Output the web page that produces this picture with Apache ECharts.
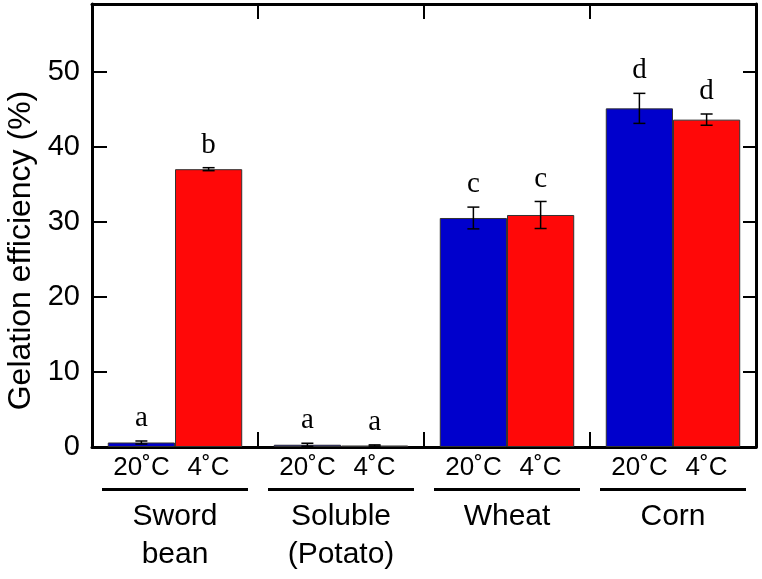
<!DOCTYPE html>
<html>
<head>
<meta charset="utf-8">
<script src="https://cdn.jsdelivr.net/npm/echarts@6/dist/echarts.min.js"></script>
<style>
html,body{margin:0;padding:0;background:#fff;}
#c{width:762px;height:579px;}
</style>
</head>
<body>
<div id="c"></div>
<script>
const groups = ['Sword\nbean', 'Soluble\n(Potato)', 'Wheat', 'Corn'];
const tempLabels = ['20˚C', '4˚C'];
const warmValues = [0.6, 0.3, 30.5, 45.1];
const warmErrors = [0.2, 0.2, 1.45, 2.0];
const coldValues = [37.0, 0.2, 30.9, 43.6];
const coldErrors = [0.2, 0.08, 1.8, 0.75];
const warmLetters = ['a', 'a', 'c', 'd'];
const coldLetters = ['b', 'a', 'c', 'd'];
const yTicks = [0, 10, 20, 30, 40, 50];

const SANS = 'Arial, "Liberation Sans", Helvetica, sans-serif';
const SERIF = '"Times New Roman", "Liberation Serif", serif';
const BAR_FRAC = 0.405;

function errSeries(values, errors, letters, sign) {
  return {
    type: 'custom',
    xAxisIndex: 0, yAxisIndex: 0,
    z: 10,
    data: values.map((v, i) => [i, v, errors[i], letters[i]]),
    renderItem: function (params, api) {
      const ci = api.value(0), v = api.value(1), e = api.value(2);
      const band = api.size([1, 0])[0];
      const cx = api.coord([ci, 0])[0] + sign * band * BAR_FRAC / 2;
      const top = api.coord([ci, v + e])[1];
      const bot = api.coord([ci, Math.max(0, v - e)])[1];
      const cap = 6;
      const st = { stroke: '#000', lineWidth: 1.5 };
      return {
        type: 'group',
        children: [
          { type: 'line', shape: { x1: cx, y1: top, x2: cx, y2: bot }, style: st },
          { type: 'line', shape: { x1: cx - cap, y1: top, x2: cx + cap, y2: top }, style: st },
          { type: 'line', shape: { x1: cx - cap, y1: bot, x2: cx + cap, y2: bot }, style: st },
          { type: 'text', style: { text: letters[ci], x: cx, y: top - 8, align: 'center', verticalAlign: 'bottom',
              font: '29px ' + SERIF, fill: '#000' } }
        ]
      };
    }
  };
}

const chart = echarts.init(document.getElementById('c'), null, { renderer: 'canvas' });
chart.setOption({
  animation: false,
  backgroundColor: '#fff',
  grid: { left: 92, right: 6, top: 4, bottom: 132, show: false, containLabel: false, outerBoundsMode: 'none' },
  xAxis: [
    {
      type: 'category', data: groups, position: 'bottom',
      axisLine: { show: true, onZero: false, lineStyle: { color: '#000', width: 3 } },
      axisTick: { show: true, inside: true, length: 15, lineStyle: { color: '#000', width: 2 } },
      axisLabel: {
        interval: 0, margin: 8, color: '#000',
        formatter: function (val) {
          const parts = val.split('\n').map(p => '{g|' + p + '}').join('\n');
          return '{t|' + tempLabels[0] + '}{t|' + tempLabels[1] + '}\n{ln| }\n' + parts;
        },
        rich: {
          t: { fontSize: 26, fontFamily: SANS, color: '#000', width: 67, align: 'center', lineHeight: 26 },
          ln: { width: 146, height: 3, backgroundColor: '#000', lineHeight: 17, fontSize: 1 },
          g: { fontSize: 30, fontFamily: SANS, color: '#000', lineHeight: 38, align: 'center' }
        }
      },
      splitLine: { show: false }
    },
    {
      type: 'category', data: groups, position: 'top',
      axisLine: { show: true, onZero: false, lineStyle: { color: '#000', width: 3 } },
      axisTick: { show: true, inside: true, length: 15, lineStyle: { color: '#000', width: 2 } },
      axisLabel: { show: false }
    }
  ],
  yAxis: [
    {
      type: 'value', min: 0, max: 59, interval: 10, position: 'left',
      name: 'Gelation efficiency (%)', nameLocation: 'middle', nameGap: 22,
      nameTextStyle: { fontSize: 32, fontFamily: SANS, color: '#000', padding: [0, 50, 0, 0] },
      axisLine: { show: true, onZero: false, lineStyle: { color: '#000', width: 3 } },
      axisTick: { show: true, inside: true, length: 15, lineStyle: { color: '#000', width: 2 } },
      axisLabel: { fontSize: 29, fontFamily: SANS, color: '#000', margin: 12, showMaxLabel: false,
        formatter: v => yTicks.indexOf(v) >= 0 ? String(v) : '' },
      splitLine: { show: false }
    },
    {
      type: 'value', min: 0, max: 59, interval: 10, position: 'right',
      axisLine: { show: true, onZero: false, lineStyle: { color: '#000', width: 3 } },
      axisTick: { show: true, inside: true, length: 13, lineStyle: { color: '#000', width: 2 } },
      axisLabel: { show: false },
      splitLine: { show: false }
    }
  ],
  series: [
    {
      type: 'bar', data: warmValues, barWidth: (BAR_FRAC * 100) + '%', barGap: '0%',
      itemStyle: { color: '#0000cc', borderColor: '#333', borderWidth: 1 }
    },
    {
      type: 'bar', data: coldValues, barWidth: (BAR_FRAC * 100) + '%', barGap: '0%',
      itemStyle: { color: '#ff0808', borderColor: '#333', borderWidth: 1 }
    },
    errSeries(warmValues, warmErrors, warmLetters, -1),
    errSeries(coldValues, coldErrors, coldLetters, 1)
  ]
});
</script>
</body>
</html>
